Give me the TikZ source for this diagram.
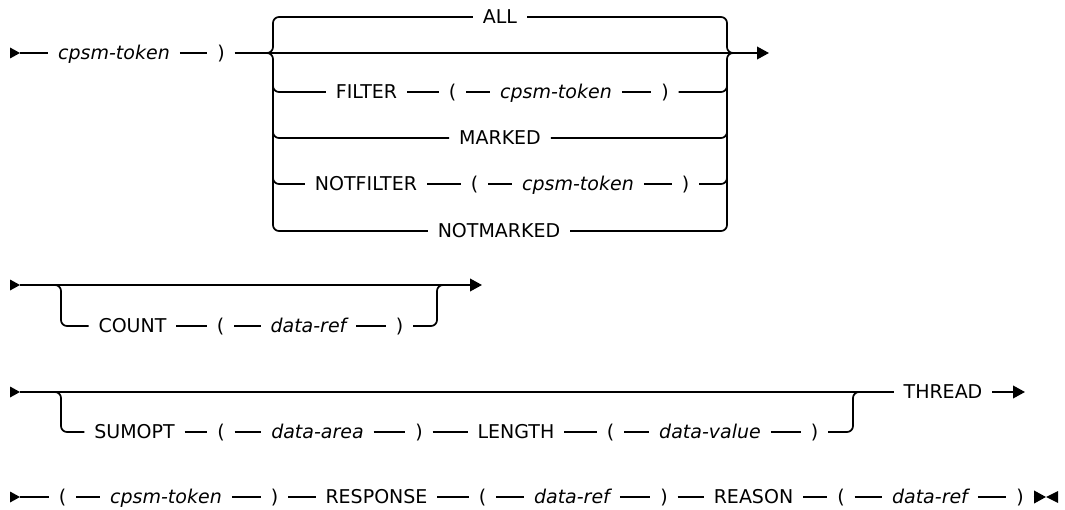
\documentclass[tikz,border=0pt]{standalone}
\usepackage{fontspec}
\setmainfont{DejaVu Sans}
\usetikzlibrary{arrows.meta}
\def\rowstart(#1){\fill[shift={(#1)}] (0,-5.5) -- (10,0) -- (0,5.5) -- cycle;}
\def\rowstop(#1){\fill[shift={(#1)}] (0,0) -- (12,-6) -- (12,6) -- cycle;}

\begin{document}
\begin{tikzpicture}[x=0.75pt, y=-0.75pt, line width=1.3pt,
	tok/.style={inner xsep=0pt, inner ysep=0pt, outer xsep=7.5pt, text height=10.4pt, text depth=0pt, font=\fontsize{14.25pt}{17pt}\selectfont},
	var/.style={tok, font=\fontsize{14.25pt}{17pt}\selectfont\itshape},
	tip/.style={-{Triangle[length=9pt,width=9.5pt]}},
	turn/.style={rounded corners=4.5pt}]
	\useasboundingbox (0,0) rectangle (1065,510);
	%%%%% ROW 1 %%%%%
	\rowstart(10,53)
	\coordinate (s1) at (20,53);
	\coordinate (bl) at (265,53);
	\coordinate (br) at (735,53);
	\coordinate (e1) at (769,53);
	\node[var] (tok1) at (114,53) {cpsm-token};
	\node[tok] (rp1) at (221,53) {)};
	\draw (s1) -- (tok1) -- (rp1);
	\draw[tip] (rp1) -- (e1);
	
	\node[tok] (all) at (500,17) {ALL};
	\node[tok] (filt) at (366.5,92) {FILTER};
	\node[tok] (filtlp) at (452.5,92) {(};
	\node[var] (filttok) at (556,92) {cpsm-token};
	\node[tok] (filtrp) at (665,92) {)};
	\node[tok] (mark) at (500,138) {MARKED};
	\node[tok] (nfilt) at (366,184) {NOTFILTER};
	\node[tok] (nfiltlp) at (474.5,184) {(};
	\node[var] (nfilttok) at (578,184) {cpsm-token};
	\node[tok] (nfiltrp) at (685.5,184) {)};
	\node[tok] (nmark) at (499,231) {NOTMARKED};
	
	\draw[turn] (bl) -| (273,17) -- (all);
	\draw[turn] (all) -| (727,53) -- (br);
	\draw[turn] (bl) -| (273,231) -- (nmark);
	\draw[turn] (nmark) -| (727,53) -- (br);
	\draw[turn] (273,80) |- (filt);
	\draw[turn] (273,126) |- (mark);
	\draw[turn] (273,172) |- (nfilt);
	\draw[turn] (filtrp) -| (727,80);
	\draw[turn] (mark) -| (727,126);
	\draw[turn] (nfiltrp) -| (727,172);
	\draw (filt) -- (filtlp) -- (filttok) -- (filtrp);
	\draw (nfilt) -- (nfiltlp) -- (nfilttok) -- (nfiltrp);
	
	%%%%% ROW 2 %%%%%
	\rowstart(10,285)
	\coordinate (s2) at (20,285);
	\coordinate (e2) at (482,285);
	\draw[tip] (s2) -- (e2);
	\node[tok] (cnt) at (132.5,326) {COUNT};
	\node[tok] (cntlp) at (220.5,326) {(};
	\node[var] (cnttok) at (308.5,326) {data-ref};
	\node[tok] (cntrp) at (399.5,326) {)};
	\draw[turn] (49,285) -| (61,326) -- (cnt);
	\draw (cnt) -- (cntlp) -- (cnttok) -- (cntrp);
	\draw[turn] (cntrp) -| (437,285) -- (449,285);
	
	%%%%% ROW 3 %%%%%
	\rowstart(10,392)
	\coordinate (s3) at (20,392);
	\coordinate (e3) at (1025,392);
	\node[tok] (thr) at (943,392) {THREAD};
	\draw (s3) -- (thr);
	\draw[tip] (thr) -- (e3);
	\node[tok] (sum) at (134.5,432) {SUMOPT};
	\node[tok] (sumlp) at (221,432) {(};
	\node[var] (sumtok) at (317.5,432) {data-area};
	\node[tok] (sumrp) at (419,432) {)};
	\node[tok] (len) at (516,432) {LENGTH};
	\node[tok] (lenlp) at (610.5,432) {(};
	\node[var] (lentok) at (710,432) {data-value};
	\node[tok] (lenrp) at (814.5,432) {)};
	\draw[turn] (49,392) -| (61,432) -- (sum);
	\draw (sum) -- (sumlp) -- (sumtok) -- (sumrp) -- (len) -- (lenlp) -- (lentok) -- (lenrp);
	\draw[turn] (lenrp) -| (853,392) -- (865,392);
	
	%%%%% ROW 4 %%%%%
	\rowstart(10,497)
	\coordinate (s4) at (20,497);
	\coordinate (e4) at (1046,497);
	\node[tok] (lp4a) at (62.5,497) {(};
	\node[var] (tok4a) at (166,497) {cpsm-token};
	\node[tok] (rp4a) at (274.5,497) {)};
	\node[tok] (resp) at (376.5,497) {RESPONSE};
	\node[tok] (lp4b) at (482.5,497) {(};
	\node[var] (tok4b) at (572,497) {data-ref};
	\node[tok] (rp4b) at (664,497) {)};
	\node[tok] (reas) at (753.5,497) {REASON};
	\node[tok] (lp4c) at (841,497) {(};
	\node[var] (tok4c) at (930,497) {data-ref};
	\node[tok] (rp4c) at (1020,497) {)};
	\draw (s4) -- (lp4a) -- (tok4a) -- (rp4a) -- (resp) -- (lp4b) -- (tok4b) -- (rp4b) -- (reas) -- (lp4c) -- (tok4c) -- (rp4c);
	\draw[tip] (rp4c) -- (e4);
	\rowstop(e4)
\end{tikzpicture}
\end{document}
